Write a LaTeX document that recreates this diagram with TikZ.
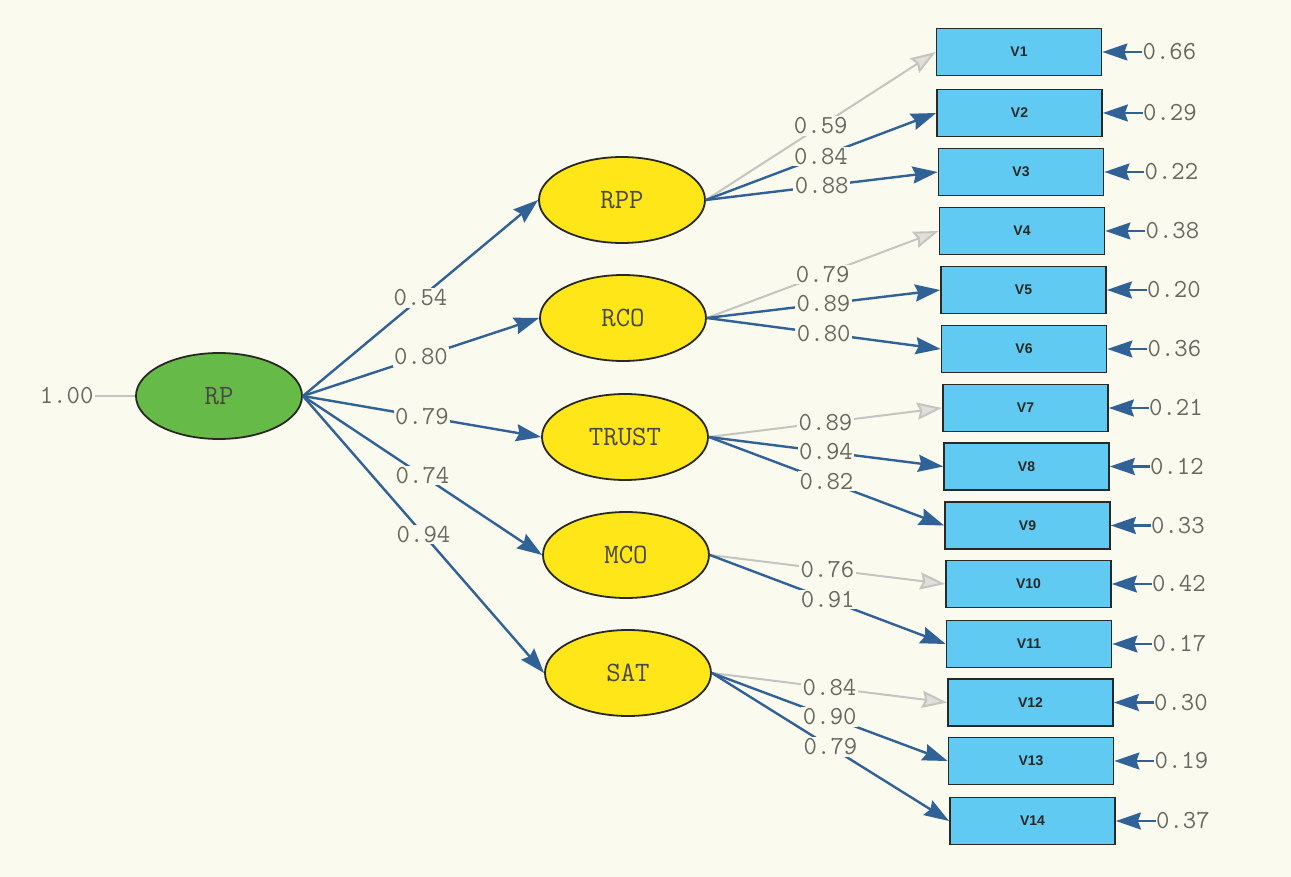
\documentclass[tikz,border=0pt]{standalone}
\usepackage{fontspec}
\usetikzlibrary{shapes.geometric,arrows.meta}
\newfontfamily\sansfam{Liberation Sans}
\definecolor{bg}{RGB}{250,250,238}
\definecolor{pathblue}{RGB}{48,98,152}
\definecolor{fixgray}{RGB}{196,196,192}
\definecolor{boxblue}{RGB}{96,202,242}
\definecolor{latyellow}{RGB}{255,230,24}
\definecolor{latgreen}{RGB}{102,186,72}
\definecolor{labgray}{RGB}{105,105,98}
\definecolor{inkdark}{RGB}{40,40,36}
\tikzset{
  latent/.style={ellipse, draw=inkdark, line width=1.8pt, minimum width=166pt, minimum height=86pt, inner sep=0pt, font=\ttfamily\fontsize{28}{28}\selectfont, text=inkdark!85},
  obsbox/.style={rectangle, draw=inkdark, line width=1.8pt, fill=boxblue, minimum width=165pt, minimum height=47pt, inner sep=0pt, font=\sansfam\bfseries\fontsize{14}{14}\selectfont, text=inkdark},
  lab/.style={font=\ttfamily\fontsize{26}{26}\selectfont, text=labgray, fill=bg, inner sep=1.5pt},
  bluearr/.style={draw=pathblue, line width=2.4pt, -{Stealth[length=25pt,width=17pt,inset=3pt]}},
  grayarr/.style={draw=fixgray, line width=2pt, -{Stealth[length=25pt,width=17pt,inset=3pt,fill=fixgray!55]}},
}
\begin{document}
\begin{tikzpicture}[x=1pt,y=-1pt]
\fill[bg] (0,0) rectangle (1291,877);
\useasboundingbox (0,0) rectangle (1291,877);

% latent variables
\node[latent, fill=latgreen] (RP) at (219,396) {RP};
\node[latent, fill=latyellow] (RPP) at (622,200) {RPP};
\node[latent, fill=latyellow] (RCO) at (623,318) {RCO};
\node[latent, fill=latyellow] (TRUST) at (625,437) {TRUST};
\node[latent, fill=latyellow] (MCO) at (626,555) {MCO};
\node[latent, fill=latyellow] (SAT) at (628,673) {SAT};

% observed variables
\node[obsbox] (V1) at (1019,52) {V1};
\node[obsbox] (V2) at (1019.5,113) {V2};
\node[obsbox] (V3) at (1021,172) {V3};
\node[obsbox] (V4) at (1022,231) {V4};
\node[obsbox] (V5) at (1023.5,290) {V5};
\node[obsbox] (V6) at (1024,349) {V6};
\node[obsbox] (V7) at (1025.5,408) {V7};
\node[obsbox] (V8) at (1026.5,466.5) {V8};
\node[obsbox] (V9) at (1027.5,525.5) {V9};
\node[obsbox] (V10) at (1028.5,584) {V10};
\node[obsbox] (V11) at (1029,644) {V11};
\node[obsbox] (V12) at (1030.5,702.5) {V12};
\node[obsbox] (V13) at (1031,761) {V13};
\node[obsbox] (V14) at (1032.5,821) {V14};

% RP variance
\node[lab, anchor=east] (r0) at ([xshift=-40pt]RP.west) {1.00};
\draw[fixgray, line width=2pt] (r0.east) -- (RP.west);

% structural paths
\draw[bluearr] (RP.east) -- node[lab] (p1) {0.54} (RPP.west);
\draw[bluearr] (RP.east) -- node[lab] (p2) {0.80} (RCO.west);
\draw[bluearr] (RP.east) -- node[lab] (p3) {0.79} (TRUST.west);
\draw[bluearr] (RP.east) -- node[lab] (p4) {0.74} (MCO.west);
\draw[bluearr] (RP.east) -- node[lab] (p5) {0.94} (SAT.west);

% loadings
\draw[grayarr] (RPP.east) -- node[lab] (l1) {0.59} (V1.west);
\draw[bluearr] (RPP.east) -- node[lab] (l2) {0.84} (V2.west);
\draw[bluearr] (RPP.east) -- node[lab] (l3) {0.88} (V3.west);
\draw[grayarr] (RCO.east) -- node[lab] (l4) {0.79} (V4.west);
\draw[bluearr] (RCO.east) -- node[lab] (l5) {0.89} (V5.west);
\draw[bluearr] (RCO.east) -- node[lab] (l6) {0.80} (V6.west);
\draw[grayarr] (TRUST.east) -- node[lab] (l7) {0.89} (V7.west);
\draw[bluearr] (TRUST.east) -- node[lab] (l8) {0.94} (V8.west);
\draw[bluearr] (TRUST.east) -- node[lab] (l9) {0.82} (V9.west);
\draw[grayarr] (MCO.east) -- node[lab] (l10) {0.76} (V10.west);
\draw[bluearr] (MCO.east) -- node[lab] (l11) {0.91} (V11.west);
\draw[grayarr] (SAT.east) -- node[lab] (l12) {0.84} (V12.west);
\draw[bluearr] (SAT.east) -- node[lab] (l13) {0.90} (V13.west);
\draw[bluearr] (SAT.east) -- node[lab] (l14) {0.79} (V14.west);

% error variances
\foreach \v/\e in {V1/0.66,V2/0.29,V3/0.22,V4/0.38,V5/0.20,V6/0.36,V7/0.21,V8/0.12,V9/0.33,V10/0.42,V11/0.17,V12/0.30,V13/0.19,V14/0.37}{
  \node[lab, anchor=west, inner sep=0pt] (e\v) at ([xshift=40pt]\v.east) {\e};
  \draw[bluearr] (e\v.west) -- (\v.east);
}
\end{tikzpicture}
\end{document}
